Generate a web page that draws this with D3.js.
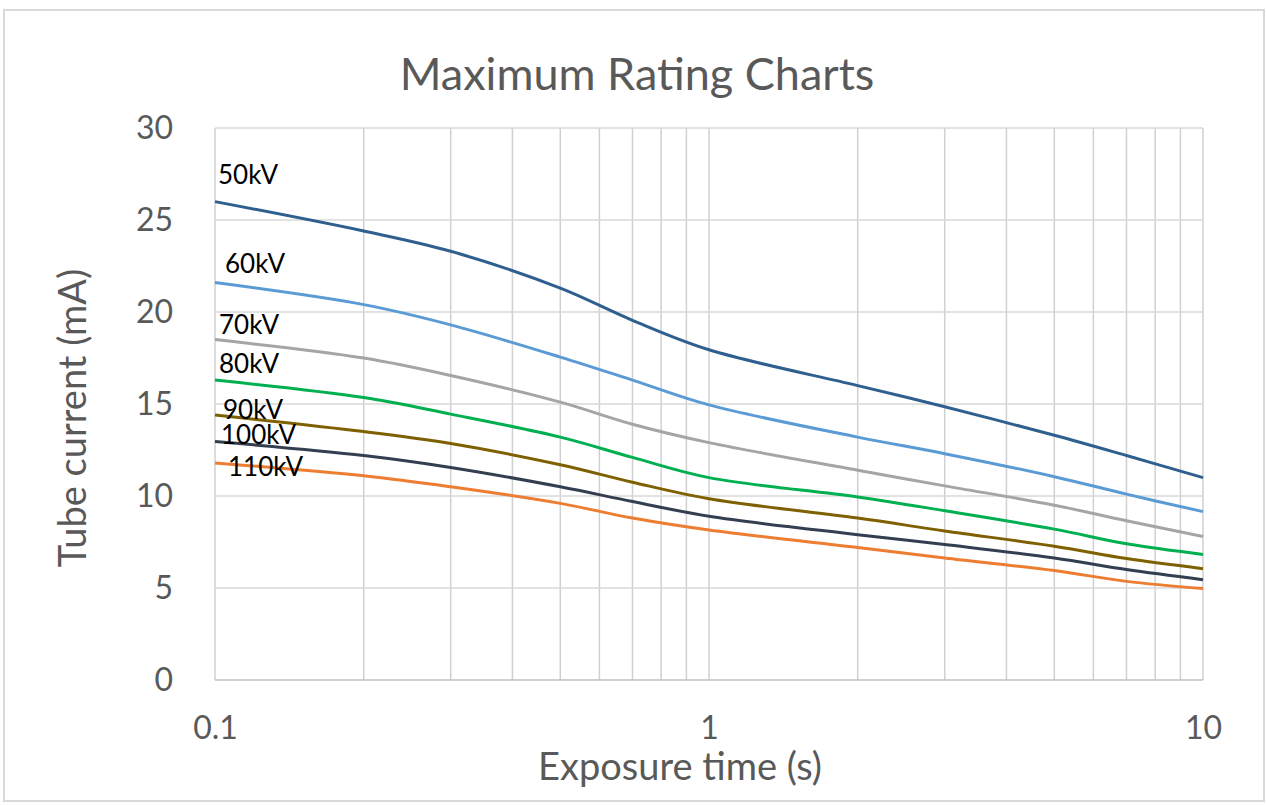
<!DOCTYPE html>
<html>
<head>
<meta charset="utf-8">
<script src="https://cdn.jsdelivr.net/npm/d3@7"></script>
<style>
  body { margin: 0; background: #fff; }
  text { font-family: Lato, "Open Sans", sans-serif; }
</style>
</head>
<body>
<div id="chart"></div>
<script>
// exposure times (s)
const times = [0.1, 0.2, 0.3, 0.5, 0.7, 1, 2, 3, 5, 7, 10];

// tube current (mA) for each voltage
const kv50  = [26.0, 24.4, 23.3, 21.3, 19.55, 17.95, 16.0, 14.85, 13.3, 12.2, 11.0];
const kv60  = [21.6, 20.4, 19.3, 17.55, 16.3, 14.95, 13.2, 12.3, 11.05, 10.1, 9.15];
const kv70  = [18.5, 17.5, 16.55, 15.1, 13.9, 12.9, 11.4, 10.55, 9.5, 8.65, 7.8];
const kv80  = [16.3, 15.35, 14.45, 13.2, 12.1, 11.0, 9.95, 9.2, 8.2, 7.4, 6.82];
const kv90  = [14.4, 13.5, 12.85, 11.7, 10.75, 9.85, 8.8, 8.1, 7.27, 6.6, 6.05];
const kv100 = [12.96, 12.2, 11.55, 10.5, 9.7, 8.9, 7.9, 7.36, 6.63, 6.0, 5.45];
const kv110 = [11.8, 11.1, 10.5, 9.6, 8.8, 8.15, 7.2, 6.63, 5.95, 5.36, 4.97];

const seriesNames = ["50kV", "60kV", "70kV", "80kV", "90kV", "100kV", "110kV"];
const seriesValues = [kv50, kv60, kv70, kv80, kv90, kv100, kv110];

const xTicks = [0.1, 1, 10];
const yTicks = [0, 5, 10, 15, 20, 25, 30];

// styling
const colors = ["#2e5f8f", "#5b9bd5", "#a5a5a5", "#00b050", "#7f6000", "#333f50", "#ed7d31"];
const labelDx = [3, 10, 4, 4, 8, 6, 13];
const labelDy = [-18, -10, -6, -7, 4, 2, 13];

const W = 1266, H = 805;
const margin = { top: 128, right: 63, bottom: 125, left: 215 };

const svg = d3.select("#chart").append("svg")
	.attr("width", W)
	.attr("height", H);

// outer frame
svg.append("rect")
	.attr("x", 4).attr("y", 10)
	.attr("width", 1260).attr("height", 791)
	.attr("fill", "#fff")
	.attr("stroke", "#d9d9d9")
	.attr("stroke-width", 2);

const x = d3.scaleLog().domain([0.1, 10]).range([margin.left, W - margin.right]);
const y = d3.scaleLinear().domain([0, 30]).range([H - margin.bottom, margin.top]);

// minor log grid
const gridX = d3.range(1, 10).map(d => d * 0.1).concat(d3.range(1, 11));
svg.append("g")
	.selectAll("line")
	.data(gridX)
	.enter()
	.append("line")
	.attr("x1", d => x(d)).attr("x2", d => x(d))
	.attr("y1", y(0)).attr("y2", y(30))
	.attr("stroke", "#d0d0d0")
	.attr("stroke-width", 1.5);

svg.append("g")
	.selectAll("line")
	.data(yTicks)
	.enter()
	.append("line")
	.attr("x1", x(0.1)).attr("x2", x(10))
	.attr("y1", d => y(d)).attr("y2", d => y(d))
	.attr("stroke", d => d === 0 ? "#bfbfbf" : "#d9d9d9")
	.attr("stroke-width", 1.5);

// axes (labels only)
const yAxis = d3.axisLeft(y).tickValues(yTicks).tickSize(0).tickPadding(42);
svg.append("g")
	.attr("transform", `translate(${margin.left},0)`)
	.call(yAxis)
	.call(g => g.select(".domain").remove())
	.selectAll("text")
	.attr("font-size", 32)
	.attr("fill", "#595959")
	.attr("font-family", "Lato, sans-serif");

const xAxis = d3.axisBottom(x).tickValues(xTicks).tickFormat(d3.format("")).tickSize(0).tickPadding(36);
svg.append("g")
	.attr("transform", `translate(0,${y(0)})`)
	.call(xAxis)
	.call(g => g.select(".domain").remove())
	.selectAll("text")
	.attr("font-size", 32)
	.attr("fill", "#595959")
	.attr("font-family", "Lato, sans-serif");

// smooth lines, like Excel's smoothed series
const line = d3.line()
	.x((d, i) => x(times[i]))
	.y(d => y(d))
	.curve(d3.curveCatmullRom.alpha(0.5));

svg.append("g")
	.selectAll("path")
	.data(seriesValues)
	.enter()
	.append("path")
	.attr("d", d => line(d))
	.attr("fill", "none")
	.attr("stroke", (d, i) => colors[i])
	.attr("stroke-width", 3);

// series labels
svg.append("g")
	.selectAll("text")
	.data(seriesNames)
	.enter()
	.append("text")
	.attr("x", (d, i) => x(times[0]) + labelDx[i])
	.attr("y", (d, i) => y(seriesValues[i][0]) + labelDy[i])
	.attr("font-size", 26)
	.attr("fill", "#000")
	.text(d => d);

// titles
svg.append("text")
	.attr("x", 637).attr("y", 90)
	.attr("text-anchor", "middle")
	.attr("font-size", 45)
	.attr("fill", "#595959")
	.text("Maximum Rating Charts");

svg.append("text")
	.attr("x", 680).attr("y", 780)
	.attr("text-anchor", "middle")
	.attr("font-size", 38)
	.attr("fill", "#595959")
	.text("Exposure time (s)");

svg.append("text")
	.attr("transform", "translate(86,418) rotate(-90)")
	.attr("text-anchor", "middle")
	.attr("font-size", 38)
	.attr("fill", "#595959")
	.text("Tube current (mA)");
</script>
</body>
</html>
